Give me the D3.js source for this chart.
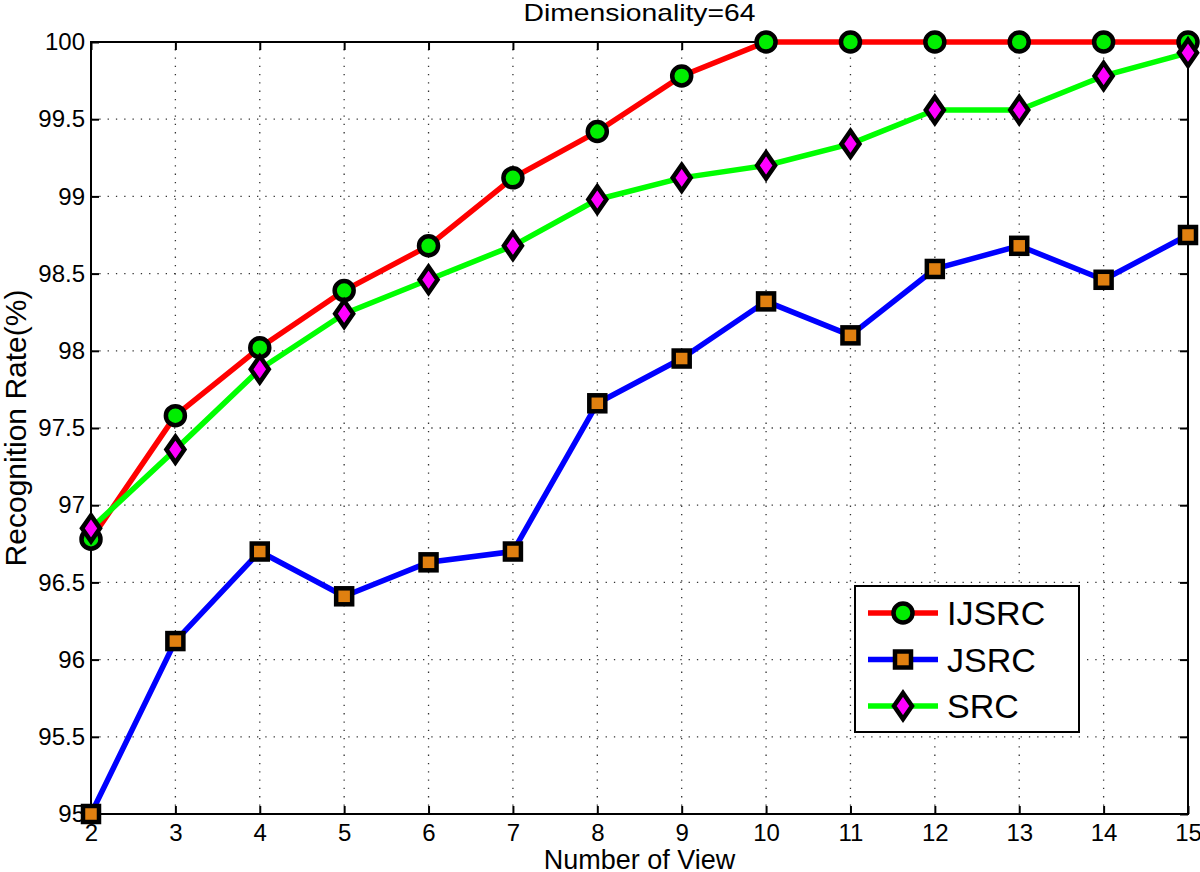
<!DOCTYPE html>
<html>
<head>
<meta charset="utf-8">
<script src="https://cdn.jsdelivr.net/npm/d3@7"></script>
<style>
  html, body { margin: 0; padding: 0; background: #fff; }
  svg { display: block; font-family: "Liberation Sans", Arial, sans-serif; }
</style>
</head>
<body>
<svg id="chart" width="1200" height="872"></svg>
<script>
const views = [2, 3, 4, 5, 6, 7, 8, 9, 10, 11, 12, 13, 14, 15];
const ijsrc = [96.78, 97.58, 98.02, 98.39, 98.68, 99.12, 99.42, 99.78, 100, 100, 100, 100, 100, 100];
const jsrc  = [95.0, 96.12, 96.70, 96.41, 96.63, 96.70, 97.66, 97.95, 98.32, 98.10, 98.53, 98.68, 98.46, 98.75];
const src   = [96.85, 97.36, 97.88, 98.24, 98.46, 98.68, 98.98, 99.12, 99.20, 99.34, 99.56, 99.56, 99.78, 99.93];
const yTicks = [95, 95.5, 96, 96.5, 97, 97.5, 98, 98.5, 99, 99.5, 100];

const series = [
  {name: 'IJSRC', values: ijsrc, color: '#ff0000', marker: 'circle', fill: '#00ee00'},
  {name: 'JSRC',  values: jsrc,  color: '#0000ff', marker: 'square', fill: '#e08010'},
  {name: 'SRC',   values: src,   color: '#00ff00', marker: 'diamond', fill: '#ff00ff'}
];

const margin = {left: 91, right: 12, top: 42, bottom: 58};
const width = 1200, height = 872;

const x = d3.scaleLinear().domain([2, 15]).range([margin.left, width - margin.right]);
const y = d3.scaleLinear().domain([95, 100]).range([height - margin.bottom, margin.top]);

const svg = d3.select('#chart');

// dotted grid
const grid = svg.append('g')
    .attr('stroke', '#333')
    .attr('stroke-width', 1.3)
    .attr('stroke-dasharray', '1.3,7');
grid.selectAll('.gx')
  .data(views.slice(1, -1))
  .join('line')
    .attr('x1', d => x(d)).attr('x2', d => x(d))
    .attr('y1', y(95)).attr('y2', y(100));
grid.selectAll('.gy')
  .data(yTicks.slice(1, -1))
  .join('line')
    .attr('x1', x(2)).attr('x2', x(15))
    .attr('y1', d => y(d)).attr('y2', d => y(d));

// axes, ticks inward, boxed
const tickLen = 8;
svg.append('g')
    .attr('transform', `translate(0,${y(95)})`)
    .call(d3.axisBottom(x).tickValues(views).tickFormat(d3.format('d')).tickSizeInner(-tickLen).tickSizeOuter(0).tickPadding(10))
    .call(g => g.select('.domain').remove())
    .call(g => g.selectAll('text').attr('font-size', 24).attr('font-family', null).attr('fill', '#000'));
svg.append('g')
    .attr('transform', `translate(0,${y(100)})`)
    .call(d3.axisTop(x).tickValues(views).tickFormat('').tickSizeInner(-tickLen).tickSizeOuter(0))
    .call(g => g.select('.domain').remove());
svg.append('g')
    .attr('transform', `translate(${x(2)},0)`)
    .call(d3.axisLeft(y).tickValues(yTicks).tickFormat(d => d).tickSizeInner(-tickLen).tickSizeOuter(0).tickPadding(6))
    .call(g => g.select('.domain').remove())
    .call(g => g.selectAll('text').attr('font-size', 24).attr('font-family', null).attr('fill', '#000'));
svg.append('g')
    .attr('transform', `translate(${x(15)},0)`)
    .call(d3.axisRight(y).tickValues(yTicks).tickFormat('').tickSizeInner(-tickLen).tickSizeOuter(0))
    .call(g => g.select('.domain').remove());
svg.selectAll('.tick line').attr('stroke', '#000').attr('stroke-width', 2);

svg.append('rect')
    .attr('x', x(2)).attr('y', y(100))
    .attr('width', x(15) - x(2)).attr('height', y(95) - y(100))
    .attr('fill', 'none').attr('stroke', '#000').attr('stroke-width', 2);

// markers
function drawMarker(g, type, fill) {
  if (type === 'circle') {
    g.append('circle').attr('r', 9.5)
      .attr('fill', fill).attr('stroke', '#000').attr('stroke-width', 4.5);
  } else if (type === 'square') {
    g.append('rect').attr('x', -8).attr('y', -8).attr('width', 16).attr('height', 16)
      .attr('fill', fill).attr('stroke', '#000').attr('stroke-width', 4.5);
  } else {
    g.append('path').attr('d', 'M0,-13L9,0L0,13L-9,0Z')
      .attr('fill', fill).attr('stroke', '#000').attr('stroke-width', 4.5)
      .attr('stroke-linejoin', 'miter');
  }
}

const line = d3.line().x((d, i) => x(views[i])).y(d => y(d));

series.forEach(s => {
  svg.append('path')
      .datum(s.values)
      .attr('fill', 'none')
      .attr('stroke', s.color)
      .attr('stroke-width', 5.5)
      .attr('stroke-linejoin', 'round')
      .attr('d', line);
});
series.forEach(s => {
  svg.append('g').selectAll('g')
    .data(s.values)
    .join('g')
      .attr('transform', (d, i) => `translate(${x(views[i])},${y(d)})`)
      .each(function() { drawMarker(d3.select(this), s.marker, s.fill); });
});

// legend
const legend = svg.append('g').attr('transform', 'translate(855,586)');
legend.append('rect')
    .attr('width', 224).attr('height', 146)
    .attr('fill', '#fff').attr('stroke', '#000').attr('stroke-width', 2);
const item = legend.selectAll('.item')
  .data(series)
  .join('g')
    .attr('transform', (d, i) => `translate(0,${27 + i * 46.5})`);
item.append('line')
    .attr('x1', 13).attr('x2', 83)
    .attr('stroke', d => d.color).attr('stroke-width', 5.5);
item.append('g')
    .attr('transform', 'translate(48,0)')
    .each(function(d) { drawMarker(d3.select(this), d.marker, d.fill); });
item.append('text')
    .attr('x', 92).attr('y', 12)
    .attr('font-size', 34)
    .text(d => d.name);

// titles
svg.append('text')
    .attr('x', (x(2) + x(15)) / 2).attr('y', 21)
    .attr('text-anchor', 'middle').attr('font-size', 24)
    .attr('textLength', 232).attr('lengthAdjust', 'spacingAndGlyphs')
    .text('Dimensionality=64');
svg.append('text')
    .attr('x', (x(2) + x(15)) / 2).attr('y', 869)
    .attr('text-anchor', 'middle').attr('font-size', 27)
    .text('Number of View');
svg.append('text')
    .attr('transform', `translate(26,${(y(95) + y(100)) / 2}) rotate(-90)`)
    .attr('text-anchor', 'middle').attr('font-size', 30)
    .text('Recognition Rate(%)');
</script>
</body>
</html>
